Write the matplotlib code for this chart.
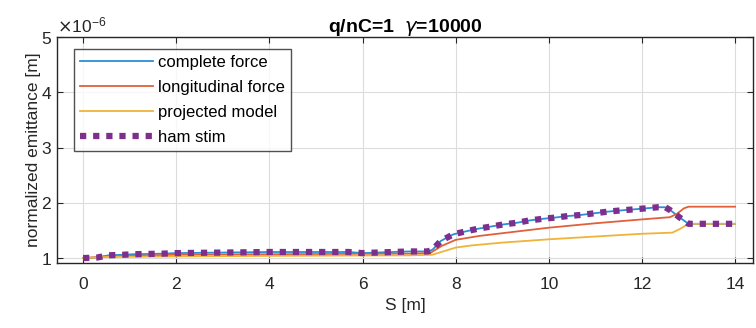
import matplotlib
matplotlib.use('Agg')
import matplotlib.pyplot as plt
from matplotlib.ticker import ScalarFormatter
import numpy as np

plt.rcParams['font.family'] = ['Liberation Sans', 'DejaVu Sans']

# S positions [m] and emittance values (units of 1e-6 m)
s_complete = [0.0, 0.3, 0.55, 0.85, 1.1, 1.7, 2.0, 3.0, 4.0, 5.0, 5.7, 6.0, 6.3, 7.0, 7.4,
              7.5, 7.68, 7.95, 8.2, 8.47, 8.75, 9.03, 9.32, 9.57, 9.86, 10.1, 10.4, 10.68,
              10.97, 11.26, 11.51, 11.8, 12.08, 12.34, 12.5, 12.62, 12.8, 13.0, 14.0]
complete_force = [1.0, 1.01, 1.05, 1.06, 1.07, 1.08, 1.09, 1.10, 1.11, 1.11, 1.11, 1.09, 1.10, 1.12, 1.12,
                  1.15, 1.31, 1.43, 1.48, 1.53, 1.57, 1.61, 1.64, 1.68, 1.71, 1.73, 1.76, 1.78,
                  1.81, 1.84, 1.86, 1.88, 1.90, 1.92, 1.92, 1.86, 1.74, 1.62, 1.62]

s_long = [0.0, 0.5, 2.0, 4.0, 7.0, 7.45, 7.7, 8.0, 8.5, 9.0, 10.0, 11.0, 12.0, 12.6, 12.75, 12.9, 13.0, 14.0]
longitudinal_force = [1.0, 1.03, 1.06, 1.07, 1.08, 1.09, 1.22, 1.33, 1.40, 1.45, 1.55, 1.63, 1.70, 1.74,
                      1.80, 1.90, 1.93, 1.93]

s_proj = [0.0, 0.5, 2.0, 4.0, 7.0, 7.5, 8.0, 8.35, 9.0, 10.0, 11.0, 12.0, 12.65, 12.8, 13.0, 14.0]
projected_model = [1.0, 1.02, 1.03, 1.04, 1.05, 1.06, 1.19, 1.23, 1.28, 1.34, 1.39, 1.44, 1.46, 1.52,
                   1.62, 1.62]

s_ham = s_complete
ham_stim = complete_force

labels = ['complete force', 'longitudinal force', 'projected model', 'ham stim']
colors = ['#2a8fd4', '#e0603a', '#efb33a', '#7e2f8e']

fig = plt.figure(figsize=(7.56, 3.28), dpi=100)
ax = fig.add_axes([0.0754, 0.198, 0.921, 0.689])

ax.plot(s_complete, np.array(complete_force) * 1e-6, color=colors[0], lw=1.3, label=labels[0])
ax.plot(s_long, np.array(longitudinal_force) * 1e-6, color=colors[1], lw=1.3, label=labels[1])
ax.plot(s_proj, np.array(projected_model) * 1e-6, color=colors[2], lw=1.3, label=labels[2])
ax.plot(s_ham, np.array(ham_stim) * 1e-6, color=colors[3], lw=4.5, dashes=(1, 1.1),
        dash_capstyle='butt', label=labels[3])

ax.set_xlim(-0.56, 14.39)
ax.set_ylim(0.91e-6, 5e-6)
ax.set_xticks(np.arange(0, 15, 2))
ax.set_yticks(np.arange(1, 6) * 1e-6)

fmt = ScalarFormatter(useMathText=True)
fmt.set_powerlimits((0, 0))
ax.yaxis.set_major_formatter(fmt)
ax.yaxis.get_offset_text().set_fontsize(12.5)
ax.yaxis.get_offset_text().set_color('#8a8a8a')

ax.grid(True, color='#dcdcdc', lw=0.8)
ax.set_axisbelow(True)
ax.tick_params(direction='in', top=True, right=True, labelsize=12.5, colors='#262626',
               length=4, width=0.8)
ax.tick_params(axis='x', pad=10)
for sp in ax.spines.values():
    sp.set_color('#262626')
    sp.set_linewidth(1.0)

ax.set_xlabel('S [m]', fontsize=12.5, color='#262626', labelpad=4)
ax.set_ylabel('normalized emittance [m]', fontsize=12.5, color='#262626', labelpad=0)
ax.set_title(r'q/nC=1  $\gamma$=10000', fontsize=14, fontweight='bold', pad=4)

leg = ax.legend(loc='upper left', bbox_to_anchor=(0.024, 0.947), fontsize=12,
                frameon=True, fancybox=False, edgecolor='#262626', handlelength=4.4,
                handletextpad=0.3, labelspacing=0.6, borderpad=0.35, borderaxespad=0)
leg.get_frame().set_linewidth(1.0)

fig.savefig('out.png', dpi=100)
